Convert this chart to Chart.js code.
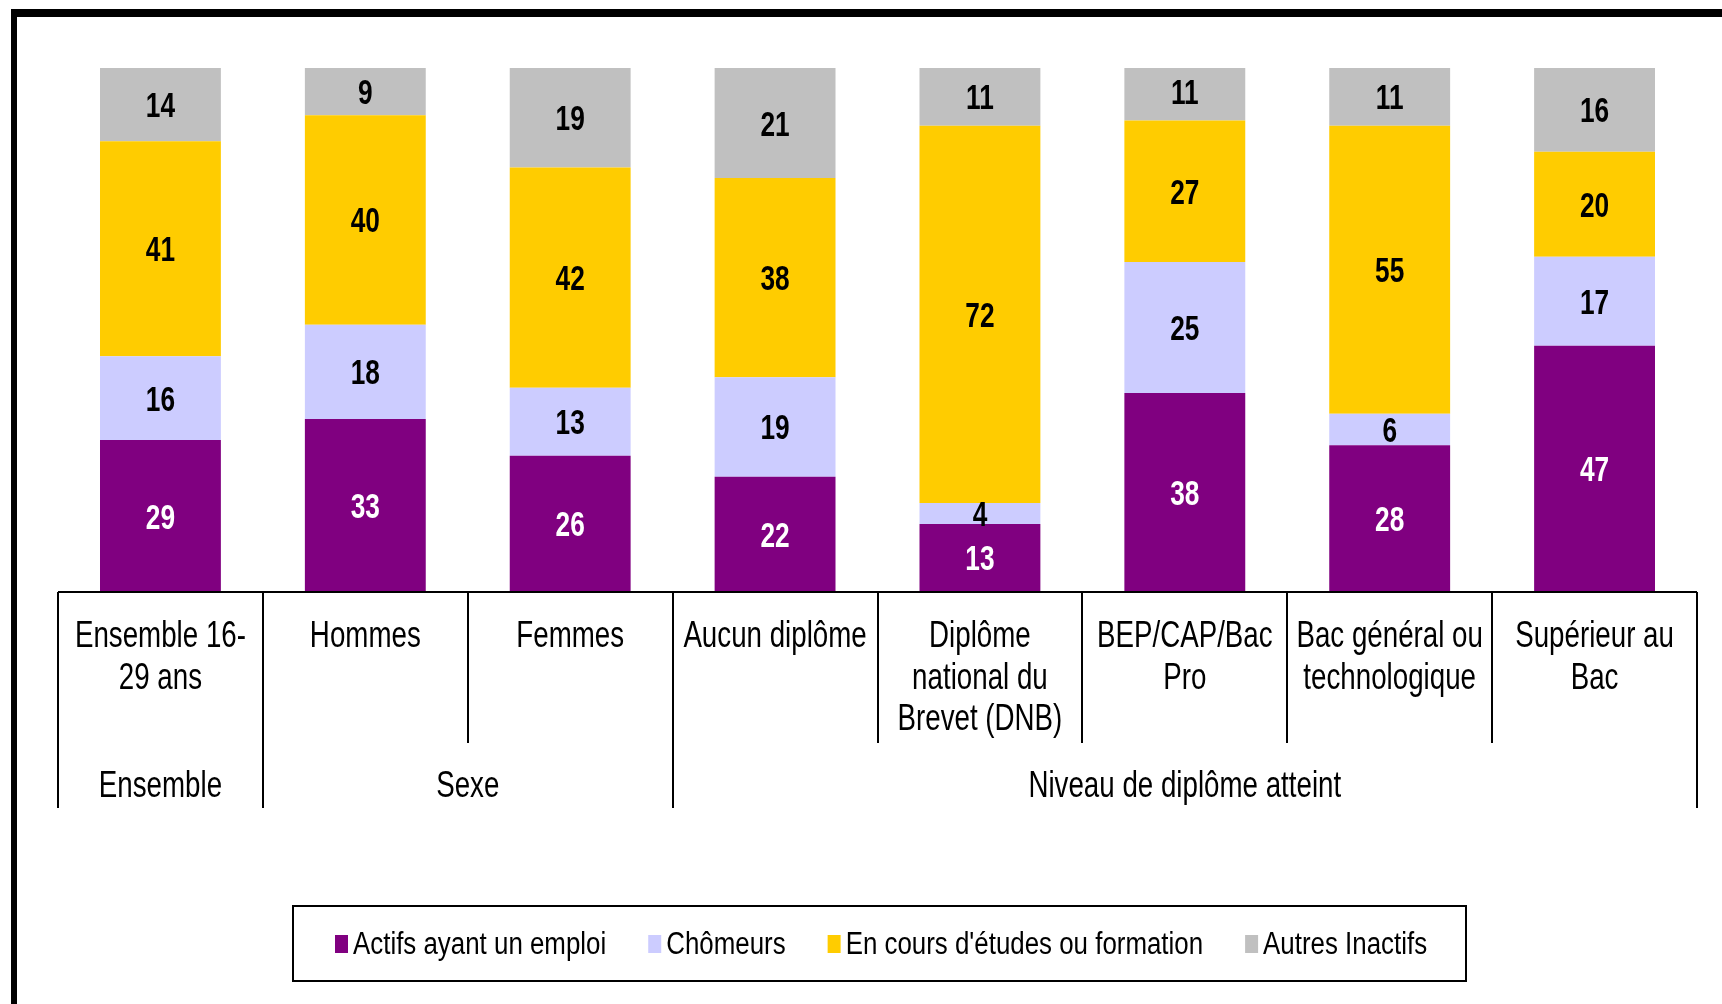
<!DOCTYPE html>
<html>
<head>
<meta charset="utf-8">
<script src="https://cdn.jsdelivr.net/npm/chart.js@4.4.1/dist/chart.umd.min.js"></script>
<style>
html,body{margin:0;padding:0;background:#fff;}
canvas{display:block;}
</style>
</head>
<body>
<canvas id="c" width="1722" height="1004"></canvas>
<script>
// ---- Data ----
const categories = [
  ["Ensemble 16-", "29 ans"],
  ["Hommes"],
  ["Femmes"],
  ["Aucun diplôme"],
  ["Diplôme", "national du", "Brevet (DNB)"],
  ["BEP/CAP/Bac", "Pro"],
  ["Bac général ou", "technologique"],
  ["Supérieur au", "Bac"]
];
const groupLabels = ["Ensemble", "Sexe", "Niveau de diplôme atteint"];
const groupSpans = [1, 2, 5];

const seriesNames = ["Actifs ayant un emploi", "Chômeurs", "En cours d'études ou formation", "Autres Inactifs"];
const actifs   = [29, 33, 26, 22, 13, 38, 28, 47];
const chomeurs = [16, 18, 13, 19, 4, 25, 6, 17];
const etudes   = [41, 40, 42, 38, 72, 27, 55, 20];
const inactifs = [14, 9, 19, 21, 11, 11, 11, 16];

const colors = ["#800080", "#CCCCFF", "#FFCC00", "#C0C0C0"];
const labelColors = ["#ffffff", "#000000", "#000000", "#000000"];

const FONT = '"Liberation Sans", Arial, Helvetica, sans-serif';

function drawText(ctx, text, x, y, size, sx, weight, color, align) {
  ctx.save();
  ctx.translate(x, y);
  ctx.scale(sx, 1);
  ctx.font = weight + ' ' + size + 'px ' + FONT;
  ctx.fillStyle = color;
  ctx.textAlign = align;
  ctx.textBaseline = 'alphabetic';
  ctx.fillText(text, 0, 0);
  ctx.restore();
}
function textWidth(ctx, text, size, sx, weight) {
  ctx.save();
  ctx.font = weight + ' ' + size + 'px ' + FONT;
  const w = ctx.measureText(text).width * sx;
  ctx.restore();
  return w;
}

const decorPlugin = {
  id: 'decor',
  beforeDraw(chart) {
    const ctx = chart.ctx;
    ctx.save();
    ctx.fillStyle = '#fff';
    ctx.fillRect(0, 0, chart.width, chart.height);
    ctx.fillStyle = '#000';
    // frame (top and left)
    ctx.fillRect(11, 9, chart.width - 11, 8);
    ctx.fillRect(11, 9, 6, chart.height - 9);
    ctx.restore();
  },
  afterDatasetsDraw(chart) {
    const ctx = chart.ctx;
    // value labels
    chart.data.datasets.forEach((ds, di) => {
      const meta = chart.getDatasetMeta(di);
      meta.data.forEach((el, i) => {
        const cy = (el.y + el.base) / 2;
        drawText(ctx, String(ds.data[i]), el.x, cy + 12.5, 35, 0.75, 'bold', labelColors[di], 'center');
      });
    });
  },
  afterDraw(chart) {
    const ctx = chart.ctx;
    const xs = chart.scales.x, ys = chart.scales.y;
    const axisY = ys.getPixelForValue(0);
    const n = categories.length;
    const bound = (i) => {
      if (i === 0) return xs.left;
      if (i === n) return xs.right;
      return (xs.getPixelForValue(i - 1) + xs.getPixelForValue(i)) / 2;
    };
    ctx.save();
    ctx.strokeStyle = '#000';
    ctx.lineWidth = 2;
    // axis line
    ctx.beginPath();
    ctx.moveTo(xs.left, axisY);
    ctx.lineTo(xs.right, axisY);
    ctx.stroke();
    // separators
    const groupBounds = [0];
    groupSpans.reduce((acc, s) => { groupBounds.push(acc + s); return acc + s; }, 0);
    for (let i = 0; i <= n; i++) {
      const x = Math.round(bound(i));
      const long = groupBounds.includes(i);
      ctx.beginPath();
      ctx.moveTo(x, axisY);
      ctx.lineTo(x, long ? axisY + 216 : axisY + 151);
      ctx.stroke();
    }
    ctx.restore();
    // category labels
    categories.forEach((lines, i) => {
      const cx = xs.getPixelForValue(i);
      lines.forEach((t, li) => {
        drawText(ctx, t, cx, axisY + 55 + li * 41.5, 36, 0.77, 'normal', '#000', 'center');
      });
    });
    // group labels
    let start = 0;
    groupLabels.forEach((g, gi) => {
      const end = start + groupSpans[gi];
      const cx = (bound(start) + bound(end)) / 2;
      drawText(ctx, g, cx, axisY + 205, 36, 0.77, 'normal', '#000', 'center');
      start = end;
    });
    // legend
    ctx.save();
    ctx.strokeStyle = '#000';
    ctx.lineWidth = 2;
    ctx.strokeRect(293, 906, 1173, 75);
    ctx.restore();
    let lx = 335;
    seriesNames.forEach((name, si) => {
      ctx.fillStyle = colors[si];
      ctx.fillRect(lx, 935, 13, 18);
      const tx = lx + 18;
      drawText(ctx, name, tx, 954, 31, 0.835, 'normal', '#000', 'left');
      lx = tx + textWidth(ctx, name, 31, 0.835, 'normal') + 42;
    });
  }
};

const seriesData = [actifs, chomeurs, etudes, inactifs];

new Chart(document.getElementById('c'), {
  type: 'bar',
  data: {
    labels: categories,
    datasets: seriesNames.map((name, i) => ({
      label: name,
      data: seriesData[i],
      backgroundColor: colors[i],
      borderWidth: 0,
      categoryPercentage: 1.0,
      barPercentage: 0.59
    }))
  },
  options: {
    responsive: false,
    animation: false,
    devicePixelRatio: 1,
    layout: { padding: { left: 58, right: 25, top: 68, bottom: 412 } },
    plugins: {
      legend: { display: false },
      tooltip: { enabled: false },
      title: { display: false }
    },
    scales: {
      x: { stacked: true, display: false, grid: { display: false } },
      y: { stacked: true, display: false, min: 0, max: 100, grid: { display: false } }
    }
  },
  plugins: [decorPlugin]
});
</script>
</body>
</html>
